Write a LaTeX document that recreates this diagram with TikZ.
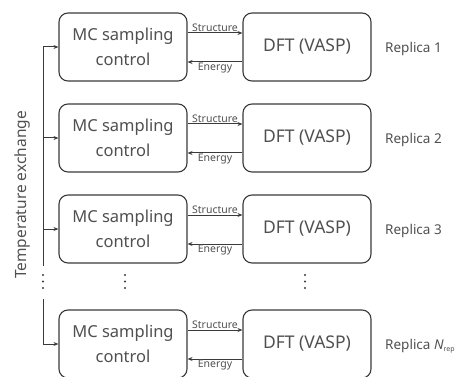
\documentclass[tikz,border=0pt]{standalone}
\usepackage{fontspec}
\setmainfont{Noto Sans}
\usetikzlibrary{arrows.meta}
\definecolor{ln}{HTML}{3A3A3A}
\definecolor{tx}{HTML}{505050}
\begin{document}
\begin{tikzpicture}[x=1pt,y=-1pt,
 box/.style={draw=ln, line width=1.1pt, rounded corners=9pt, minimum width=128pt, minimum height=68pt, inner sep=0pt, fill=white, text=tx, align=center, font=\fontsize{16.5}{25}\selectfont},
 dftbox/.style={box, font=\fontsize{17.5}{20}\selectfont},
 arr/.style={draw=ln, line width=1pt, -{Stealth[length=5pt,width=4pt]}},
 conn/.style={draw=ln, line width=1pt},
 small/.style={text=tx, font=\fontsize{10.5}{12}\selectfont, inner sep=0.5pt},
 rep/.style={text=tx, font=\fontsize{13.5}{15}\selectfont, anchor=west, inner sep=0pt},
 dotc/.style={fill=ln, draw=none}]
\useasboundingbox (0,0) rectangle (458,377);
% rows
\foreach \i/\c in {1/47,2/138,3/229,4/344}{
  \node[box] (mc\i) at (123,\c) {MC sampling\\control};
  \node[dftbox] (dft\i) at (307,\c) {DFT (VASP)};
  \draw[arr] ([yshift=14pt]mc\i.east) -- ([yshift=14pt]dft\i.west)
     node[small, midway, anchor=south] (s\i) {Structure};
  \draw[arr] ([yshift=-15pt]dft\i.west) -- ([yshift=-15pt]mc\i.east)
     node[small, midway, anchor=north] (e\i) {Energy};
  \coordinate (t\i) at (43,\c);
  \draw[arr] (t\i) -- (mc\i.west);
}
\node[rep] (r1) at (385,49) {Replica 1};
\node[rep] (r2) at (385,140) {Replica 2};
\node[rep] (r3) at (385,231) {Replica 3};
\node[rep] (r4) at (385,346) {Replica {\itshape N}\raisebox{-2.5pt}{\fontsize{7}{8}\selectfont rep}};
% temperature exchange line
\coordinate (gapTop) at (43,266);
\coordinate (gapBot) at (43,299);
\draw[conn] (t1) -- (gapTop);
\draw[conn] (gapBot) -- (t4);
\node[text=tx, rotate=90, font=\fontsize{15.5}{18}\selectfont] (temp) at (22,195) {Temperature exchange};
% dots
\foreach \x in {43,125,305}{
  \foreach \y in {275,281.5,288}{
    \fill[dotc] (\x,\y) circle (1.2);
  }
}
\end{tikzpicture}
\end{document}
